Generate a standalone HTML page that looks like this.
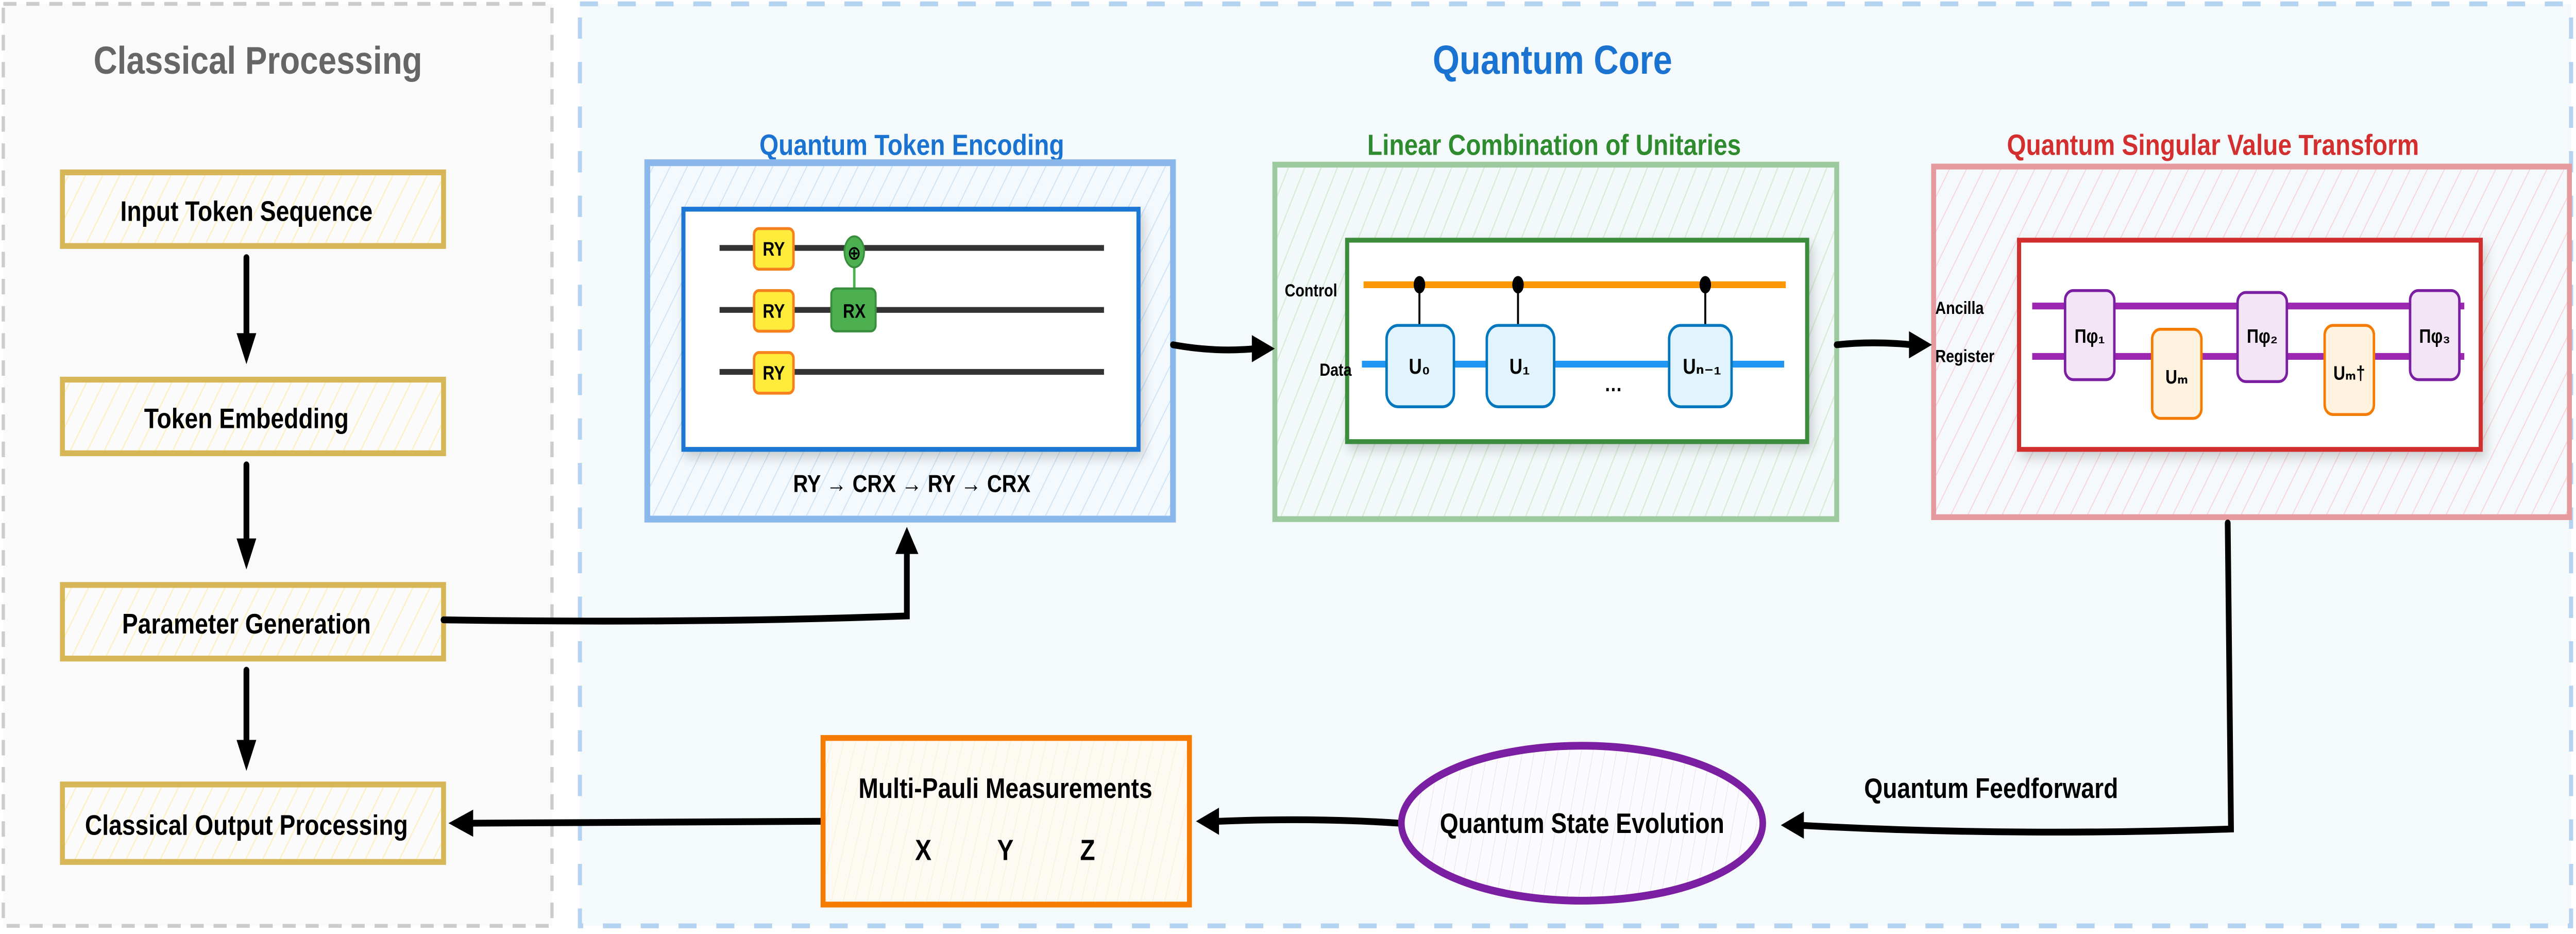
<!DOCTYPE html>
<html><head><meta charset="utf-8"><style>
html,body{margin:0;padding:0;background:#fff;overflow:hidden;width:100vw;height:100vh;}
svg{display:block;width:100vw;height:100vh;}
text{font-family:"Liberation Sans","DejaVu Sans",sans-serif;font-weight:bold;}
</style></head><body>
<svg viewBox="0 0 1568 482.2" preserveAspectRatio="none" xmlns="http://www.w3.org/2000/svg">
<defs>
<pattern id="hy" width="9" height="9" patternUnits="userSpaceOnUse" patternTransform="rotate(30)"><rect width="9" height="9" fill="#fbfbfb"/><line x1="0" y1="0" x2="0" y2="9" stroke="#fff0c2" stroke-width="1.4"/></pattern>
<pattern id="hb" width="9" height="9" patternUnits="userSpaceOnUse" patternTransform="rotate(30)"><rect width="9" height="9" fill="#f3f9fd"/><line x1="0" y1="0" x2="0" y2="9" stroke="#cfe4f8" stroke-width="1.2"/></pattern>
<pattern id="hg" width="9" height="9" patternUnits="userSpaceOnUse" patternTransform="rotate(25)"><rect width="9" height="9" fill="#f3f9fa"/><line x1="0" y1="0" x2="0" y2="9" stroke="#d7ecd8" stroke-width="1.4"/></pattern>
<pattern id="hr" width="9" height="9" patternUnits="userSpaceOnUse" patternTransform="rotate(30)"><rect width="9" height="9" fill="#f6f9fb"/><line x1="0" y1="0" x2="0" y2="9" stroke="#f8d6da" stroke-width="1.2"/></pattern>
<pattern id="ho" width="7" height="7" patternUnits="userSpaceOnUse" patternTransform="rotate(15)"><rect width="7" height="7" fill="#fdfaf4"/><line x1="0" y1="0" x2="0" y2="7" stroke="#fdeed8" stroke-width="0.8"/></pattern>
<pattern id="hp" width="7" height="7" patternUnits="userSpaceOnUse" patternTransform="rotate(12)"><rect width="7" height="7" fill="#fbfbfd"/><line x1="0" y1="0" x2="0" y2="7" stroke="#f1e0f4" stroke-width="0.8"/></pattern>
<filter id="sh" x="-10%" y="-10%" width="130%" height="130%"><feDropShadow dx="2" dy="3" stdDeviation="3" flood-color="#000" flood-opacity="0.18"/></filter>
</defs>
<rect width="1568" height="482.2" fill="#fff"/>
<!-- Classical -->
<rect x="2" y="2" width="334" height="476" fill="#fafafa" stroke="#cccccc" stroke-width="2" stroke-dasharray="8,6"/>
<text x="157" y="38" font-size="20" fill="#666" text-anchor="middle">Classical Processing</text>
<!-- Quantum core -->
<rect x="353" y="2" width="1212" height="476" fill="#f4f9fc" stroke="#b4d3f0" stroke-width="2.5" stroke-dasharray="11,12"/>
<text x="945" y="38" font-size="21" fill="#1a73d0" text-anchor="middle">Quantum Core</text>

<!-- left boxes -->
<g stroke="#d6b656" stroke-width="3" fill="url(#hy)">
<rect x="38" y="89" width="232" height="38"/>
<rect x="38" y="196" width="232" height="38"/>
<rect x="38" y="302" width="232" height="38"/>
<rect x="38" y="405" width="232" height="40"/>
</g>
<g font-size="14.5" text-anchor="middle" fill="#000">
<text x="150" y="114">Input Token Sequence</text>
<text x="150" y="221">Token Embedding</text>
<text x="150" y="327">Parameter Generation</text>
<text x="150" y="431">Classical Output Processing</text>
</g>
<g stroke="#000" stroke-width="3.5" fill="none" stroke-linecap="round">
<line x1="150" y1="133" x2="150" y2="178"/>
<line x1="150" y1="240" x2="150" y2="284"/>
<line x1="150" y1="346" x2="150" y2="388"/>
</g>
<g fill="#000">
<polygon points="144,172 156,172 150,188"/>
<polygon points="144,278 156,278 150,294"/>
<polygon points="144,382 156,382 150,398"/>
</g>

<!-- QTE -->
<text x="555" y="80" font-size="15" fill="#1a73d0" text-anchor="middle">Quantum Token Encoding</text>
<rect x="394" y="84" width="320" height="184" fill="url(#hb)" stroke="#8ab8ea" stroke-width="3.5"/>
<rect x="416" y="108" width="277" height="124" fill="#fff" stroke="#1f77d4" stroke-width="2.5" filter="url(#sh)"/>
<g stroke="#333" stroke-width="3">
<line x1="438" y1="128" x2="672" y2="128"/>
<line x1="438" y1="160" x2="672" y2="160"/>
<line x1="438" y1="192" x2="672" y2="192"/>
</g>
<g fill="#ffeb3b" stroke="#f5821f" stroke-width="1.5">
<rect x="459" y="118" width="24" height="21" rx="3"/>
<rect x="459" y="150" width="24" height="21" rx="3"/>
<rect x="459" y="182" width="24" height="21" rx="3"/>
</g>
<line x1="520" y1="135" x2="520" y2="150" stroke="#4caf50" stroke-width="1.5"/>
<ellipse cx="520" cy="130" rx="6" ry="8" fill="#4caf50" stroke="#388e3c" stroke-width="1"/>
<text x="520" y="134" font-size="10" text-anchor="middle" fill="#000">⊕</text>
<rect x="506" y="149" width="27" height="22" rx="3" fill="#4caf50" stroke="#388e3c" stroke-width="1.2"/>
<g font-size="10" text-anchor="middle" fill="#000">
<text x="471" y="132">RY</text><text x="471" y="164">RY</text><text x="471" y="196">RY</text>
<text x="520" y="164">RX</text>
</g>
<text x="555" y="254" font-size="12.5" text-anchor="middle" fill="#000">RY → CRX → RY → CRX</text>

<!-- LCU -->
<text x="946" y="80" font-size="15" fill="#2e8b2e" text-anchor="middle">Linear Combination of Unitaries</text>
<rect x="776" y="85" width="342" height="183" fill="url(#hg)" stroke="#9dc99f" stroke-width="3"/>
<rect x="820" y="124" width="280" height="104" fill="#fff" stroke="#3a8c3c" stroke-width="2.5" filter="url(#sh)"/>
<line x1="830" y1="147" x2="1087" y2="147" stroke="#ff9800" stroke-width="3.5"/>
<line x1="829" y1="188" x2="1086" y2="188" stroke="#2196f3" stroke-width="3.5"/>
<g stroke="#000" stroke-width="1.2"><line x1="864" y1="147" x2="864" y2="168"/><line x1="924" y1="147" x2="924" y2="168"/><line x1="1038" y1="147" x2="1038" y2="168"/></g>
<g fill="#000"><ellipse cx="864" cy="147" rx="3.5" ry="4.5"/><ellipse cx="924" cy="147" rx="3.5" ry="4.5"/><ellipse cx="1038" cy="147" rx="3.5" ry="4.5"/></g>
<g fill="#e1f4fd" stroke="#0277bd" stroke-width="1.5">
<rect x="844" y="168" width="41" height="42" rx="7"/>
<rect x="905" y="168" width="41" height="42" rx="7"/>
<rect x="1016" y="168" width="38" height="42" rx="7"/>
</g>
<g font-size="11" text-anchor="middle" fill="#000">
<text x="864" y="193">U₀</text><text x="925" y="193">U₁</text><text x="1036" y="193">Uₙ₋₁</text>
<text x="982" y="202">…</text>
</g>
<text x="798" y="153" font-size="9" text-anchor="middle">Control</text>
<text x="813" y="194" font-size="9" text-anchor="middle">Data</text>

<!-- QSVT -->
<text x="1347" y="80" font-size="15" fill="#d32f2f" text-anchor="middle">Quantum Singular Value Transform</text>
<rect x="1177" y="86" width="387" height="181" fill="url(#hr)" stroke="#e59a9d" stroke-width="3"/>
<rect x="1229" y="124" width="281" height="108" fill="#fff" stroke="#d32f2f" stroke-width="2.5" filter="url(#sh)"/>
<line x1="1237" y1="158" x2="1500" y2="158" stroke="#9c27b0" stroke-width="3.5"/>
<line x1="1237" y1="184" x2="1500" y2="184" stroke="#9c27b0" stroke-width="3.5"/>
<g fill="#f3e5f5" stroke="#7b1fa2" stroke-width="1.5">
<rect x="1257" y="150" width="30" height="46" rx="5"/>
<rect x="1362" y="151" width="30" height="46" rx="5"/>
<rect x="1467" y="150" width="30" height="46" rx="5"/>
</g>
<g fill="#fff3e0" stroke="#f57c00" stroke-width="1.5">
<rect x="1310" y="170" width="30" height="46" rx="5"/>
<rect x="1415" y="168" width="30" height="46" rx="5"/>
</g>
<g font-size="10" text-anchor="middle" fill="#000">
<text x="1272" y="177">Πφ₁</text><text x="1377" y="177">Πφ₂</text><text x="1482" y="177">Πφ₃</text>
<text x="1325" y="198">Uₘ</text><text x="1430" y="196">Uₘ†</text>
</g>
<g font-size="9" fill="#000"><text x="1178" y="162">Ancilla</text><text x="1178" y="187">Register</text></g>

<!-- arrows -->
<g stroke="#000" stroke-width="3.5" fill="none" stroke-linecap="round">
<path d="M714,178 Q740,182 764,180"/>
<path d="M1118,178 Q1140,176 1164,178"/>
<path d="M270,320 Q420,322 552,318 L552,284"/>
<path d="M1356,270 L1358,428 Q1220,432 1094,426"/>
<path d="M852,425 Q800,422 742,424"/>
<path d="M500,424 L286,425"/>
</g>
<g fill="#000">
<polygon points="762,173 776,180 762,187"/>
<polygon points="1162,171 1176,178 1162,185"/>
<polygon points="545,286 552,272 559,286"/>
<polygon points="1098,419 1084,426 1098,433"/>
<polygon points="742,417 728,424 742,431"/>
<polygon points="288,418 273,425 288,432"/>
</g>
<text x="1212" y="412" font-size="14.5" text-anchor="middle">Quantum Feedforward</text>

<!-- Quantum State Evolution -->
<ellipse cx="963" cy="425" rx="110" ry="40" fill="url(#hp)" stroke="#7b1fa2" stroke-width="4"/>
<text x="963" y="430" font-size="14.5" text-anchor="middle">Quantum State Evolution</text>

<!-- Multi-Pauli -->
<rect x="501" y="381" width="223" height="86" fill="url(#ho)" stroke="#f57c00" stroke-width="3"/>
<text x="612" y="412" font-size="14.5" text-anchor="middle">Multi-Pauli Measurements</text>
<g font-size="15" text-anchor="middle"><text x="562" y="444">X</text><text x="612" y="444">Y</text><text x="662" y="444">Z</text></g>
</svg>
</body></html>
